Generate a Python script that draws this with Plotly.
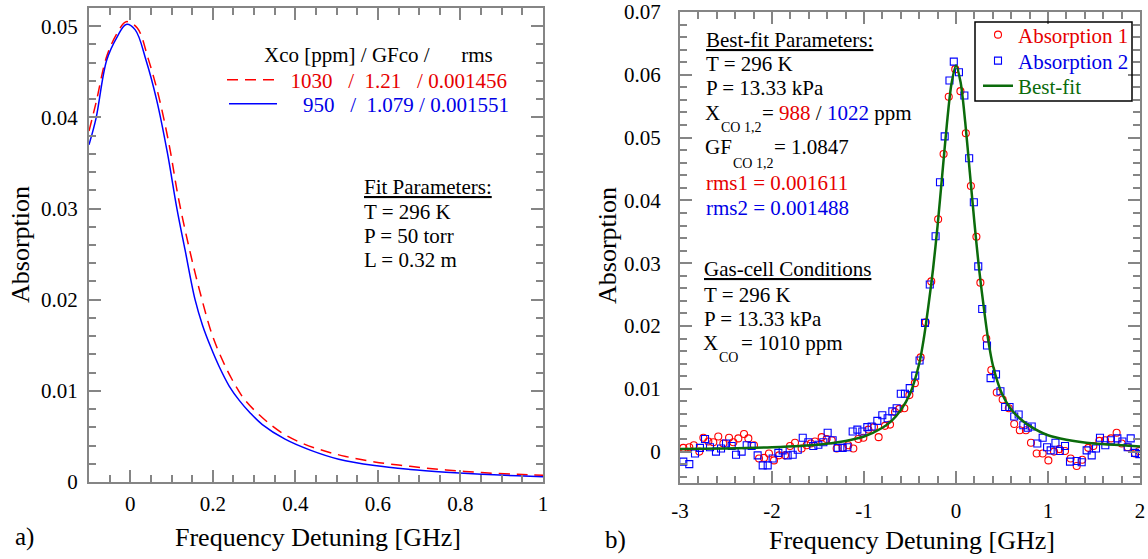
import plotly.graph_objects as go

# ---------------- data: panel a) ----------------
a_blue_x = [-0.1, -0.083, -0.057, -0.031, -0.01, 0.012, 0.038, 0.064, 0.090, 0.113, 0.133,
            0.157, 0.175, 0.195, 0.215, 0.240, 0.265, 0.290, 0.320, 0.375, 0.436, 0.505,
            0.592, 0.678, 0.765, 0.851, 0.938, 1.0]
a_blue_y = [0.0370, 0.0399, 0.0463, 0.0489, 0.0502, 0.0496, 0.0463, 0.0419, 0.0361, 0.0300, 0.0254,
            0.0200, 0.0172, 0.0148, 0.0127, 0.0105, 0.0089, 0.0076, 0.0063, 0.0047, 0.0035, 0.0025,
            0.0018, 0.00138, 0.00108, 0.00085, 0.00068, 0.00058]
a_red_x = [-0.1, -0.083, -0.057, -0.031, -0.01, 0.017, 0.043, 0.069, 0.095, 0.116, 0.142,
           0.168, 0.198, 0.224, 0.246, 0.276, 0.319, 0.367, 0.419, 0.471, 0.522, 0.592,
           0.678, 0.765, 0.851, 0.938, 1.0]
a_red_y = [0.0385, 0.0416, 0.0467, 0.0493, 0.0505, 0.0498, 0.0465, 0.0423, 0.0368, 0.0313, 0.0258,
           0.0210, 0.0162, 0.0133, 0.0113, 0.0091, 0.0071, 0.0054, 0.0042, 0.0034, 0.0028, 0.0022,
           0.00172, 0.00132, 0.00103, 0.00084, 0.00074]

a_xticks = [0, 0.2, 0.4, 0.6, 0.8, 1]
a_xticklabels = ["0", "0.2", "0.4", "0.6", "0.8", "1"]
a_yticks = [0, 0.01, 0.02, 0.03, 0.04, 0.05]
a_yticklabels = ["0", "0.01", "0.02", "0.03", "0.04", "0.05"]

# ---------------- data: panel b) ----------------
b_abs1_x = [-2.964, -2.899, -2.850, -2.790, -2.746, -2.692, -2.638, -2.584, -2.529, -2.467,
            -2.420, -2.366, -2.304, -2.257, -2.196, -2.141, -2.087, -2.033, -1.978, -1.924,
            -1.859, -1.804, -1.750, -1.678, -1.623, -1.578, -1.533, -1.460, -1.406, -1.351,
            -1.297, -1.232, -1.171, -1.116, -1.062, -1.007, -0.953, -0.891, -0.841, -0.772,
            -0.717, -0.663, -0.616, -0.562, -0.507, -0.447, -0.384, -0.329, -0.269, -0.194,
            -0.135, -0.079, -0.008, 0.048, 0.107, 0.162, 0.222, 0.265, 0.329, 0.384,
            0.443, 0.507, 0.574, 0.633, 0.693, 0.760, 0.815, 0.877, 0.942, 1.004,
            1.065, 1.123, 1.185, 1.246, 1.312, 1.372, 1.438, 1.493, 1.558, 1.620,
            1.685, 1.746, 1.801, 1.866, 1.946, 1.989]
b_abs1_y = [0.0006, 0.0007, 0.0010, 0.0000, 0.0022, 0.0016, 0.0015, 0.0024, 0.0013, 0.0022,
            0.0015, 0.0021, 0.0028, 0.0021, 0.0010, -0.0011, -0.0010, -0.0003, -0.0014, -0.0006,
            -0.0006, 0.0009, 0.0014, 0.0005, 0.0010, 0.0013, 0.0016, 0.0023, 0.0020, 0.0018,
            0.0005, 0.0006, 0.0010, 0.0005, 0.0020, 0.0022, 0.0035, 0.0039, 0.0023, 0.0041,
            0.0043, 0.0063, 0.0068, 0.0069, 0.0090, 0.0109, 0.0150, 0.0206, 0.0271, 0.0370,
            0.0474, 0.0565, 0.0609, 0.0574, 0.0507, 0.0423, 0.0342, 0.0269, 0.0180, 0.0130,
            0.0094, 0.0083, 0.0069, 0.0044, 0.0034, 0.0034, 0.0014, -0.0003, -0.0003, -0.0014,
            0.0000, 0.0004, 0.0001, -0.0011, -0.0023, -0.0013, 0.0006, 0.0009, 0.0017, 0.0018,
            0.0021, 0.0030, 0.0013, 0.0007, -0.0003, 0.0001]

b_abs2_x = [-2.964, -2.899, -2.837, -2.783, -2.728, -2.674, -2.609, -2.554, -2.500, -2.438,
            -2.391, -2.330, -2.275, -2.221, -2.156, -2.101, -2.047, -1.993, -1.931, -1.884,
            -1.830, -1.775, -1.720, -1.666, -1.605, -1.551, -1.496, -1.442, -1.395, -1.341,
            -1.286, -1.232, -1.181, -1.123, -1.072, -1.018, -0.964, -0.917, -0.855, -0.801,
            -0.743, -0.692, -0.645, -0.600, -0.555, -0.503, -0.443, -0.396, -0.337, -0.285,
            -0.222, -0.174, -0.123, -0.071, -0.024, 0.032, 0.091, 0.143, 0.194, 0.242,
            0.285, 0.337, 0.376, 0.435, 0.483, 0.534, 0.582, 0.633, 0.681, 0.732,
            0.780, 0.823, 0.884, 0.942, 0.990, 1.029, 1.081, 1.128, 1.185, 1.239,
            1.312, 1.366, 1.420, 1.475, 1.522, 1.565, 1.623, 1.683, 1.754, 1.809,
            1.866, 1.899, 1.946, 1.993]
b_abs2_y = [-0.0016, -0.0020, -0.0003, 0.0006, 0.0020, 0.0007, 0.0000, 0.0005, 0.0013, 0.0009,
            -0.0005, 0.0000, 0.0010, 0.0009, -0.0006, -0.0022, -0.0022, -0.0011, -0.0002, 0.0002,
            -0.0006, -0.0005, 0.0003, 0.0022, 0.0015, 0.0009, 0.0011, 0.0015, 0.0030, 0.0018,
            0.0006, 0.0006, 0.0007, 0.0032, 0.0035, 0.0032, 0.0039, 0.0040, 0.0049, 0.0058,
            0.0053, 0.0064, 0.0069, 0.0092, 0.0092, 0.0101, 0.0121, 0.0145, 0.0205, 0.0266,
            0.0343, 0.0429, 0.0502, 0.0591, 0.0621, 0.0604, 0.0567, 0.0467, 0.0397, 0.0295,
            0.0227, 0.0169, 0.0117, 0.0123, 0.0096, 0.0071, 0.0071, 0.0056, 0.0059, 0.0042,
            0.0038, 0.0040, 0.0013, 0.0022, 0.0007, 0.0002, 0.0014, 0.0001, 0.0009, -0.0016,
            -0.0015, -0.0017, 0.0002, -0.0006, 0.0005, 0.0022, 0.0010, 0.0018, 0.0021, 0.0016,
            0.0007, 0.0021, -0.0002, -0.0004]

b_fit_x = [-3.0, -2.5, -2.0, -1.5, -1.2, -1.0, -0.8, -0.7, -0.6, -0.5, -0.4, -0.35, -0.3,
           -0.25, -0.2, -0.15, -0.1, -0.05, 0.0, 0.05, 0.1, 0.15, 0.2, 0.25, 0.3, 0.35,
           0.4, 0.5, 0.6, 0.7, 0.8, 1.0, 1.2, 1.5, 1.8, 2.0]
b_fit_y = [0.0004, 0.0005, 0.0007, 0.0011, 0.0017, 0.0024, 0.0038, 0.0049, 0.0066, 0.0092,
           0.0140, 0.0180, 0.0232, 0.0290, 0.0360, 0.0440, 0.0520, 0.0585, 0.0615, 0.0588,
           0.0525, 0.0445, 0.0365, 0.0292, 0.0232, 0.0178, 0.0138, 0.0092, 0.0067, 0.0052,
           0.0041, 0.0026, 0.0019, 0.0013, 0.0010, 0.0008]

b_xticks = [-3, -2, -1, 0, 1, 2]
b_xticklabels = ["-3", "-2", "-1", "0", "1", "2"]
b_yticks = [0, 0.01, 0.02, 0.03, 0.04, 0.05, 0.06, 0.07]
b_yticklabels = ["0", "0.01", "0.02", "0.03", "0.04", "0.05", "0.06", "0.07"]

# ---------------- styling ----------------
W, H = 1148, 559
FONT = "Liberation Serif, Times New Roman, serif"
GRAY = "#858585"
RED = "#ff0000"
BLUE = "#0000ff"
GREEN = "#0b6b0b"
TRED = "#e60000"
TBLUE = "#0000e6"
NB = "\u00a0"


def fx(p):
    return p / W


def fy(p):
    return 1 - p / H


fig = go.Figure()

fig.add_trace(go.Scatter(
    x=a_red_x, y=a_red_y, mode="lines", xaxis="x", yaxis="y",
    line=dict(color=RED, width=1.5, dash="11px,7px", shape="spline"),
    name=f"<span style='color:{TRED}'>{NB*2}1030{NB*3}/{NB*2}1.21{NB*3}/ 0.001456</span>",
    legend="legend2"))
fig.add_trace(go.Scatter(
    x=a_blue_x, y=a_blue_y, mode="lines", xaxis="x", yaxis="y",
    line=dict(color=BLUE, width=1.5, shape="spline"),
    name=f"<span style='color:{TBLUE}'>{NB*4}950{NB*3}/{NB*2}1.079{NB}/ 0.001551</span>",
    legend="legend3"))

fig.add_trace(go.Scatter(
    x=b_abs1_x, y=b_abs1_y, mode="markers", xaxis="x2", yaxis="y2",
    marker=dict(symbol="circle-open", size=7, color=RED, line=dict(width=1.1)),
    name=f"<span style='color:{TRED}'>Absorption 1</span>", legend="legend"))
fig.add_trace(go.Scatter(
    x=b_abs2_x, y=b_abs2_y, mode="markers", xaxis="x2", yaxis="y2",
    marker=dict(symbol="square-open", size=7, color=BLUE, line=dict(width=1.1)),
    name=f"<span style='color:{TBLUE}'>Absorption 2</span>", legend="legend4"))
fig.add_trace(go.Scatter(
    x=b_fit_x, y=b_fit_y, mode="lines", xaxis="x2", yaxis="y2",
    line=dict(color=GREEN, width=2.5, shape="spline", smoothing=0.8),
    name=f"<span style='color:{GREEN}'>Best-fit</span>", legend="legend5"))

axis_common = dict(
    showgrid=False, zeroline=False, showline=True, linecolor=GRAY, linewidth=2,
    mirror="allticks", ticks="inside", ticklen=12, tickwidth=1.5, tickcolor=GRAY,
    tickfont=dict(family=FONT, size=21, color="black"), tickmode="array",
    automargin=False,
)


def minor(d):
    return dict(ticks="inside", ticklen=7, tickwidth=1.5, tickcolor=GRAY,
                tickmode="linear", tick0=0, dtick=d)


def one_legend(x, y, itemwidth=30):
    return dict(x=fx(x), y=fy(y), xanchor="left", yanchor="middle",
                bgcolor="rgba(0,0,0,0)", borderwidth=0, itemwidth=itemwidth,
                font=dict(family=FONT, size=21))


fig.update_layout(
    template="none",
    width=W, height=H, margin=dict(l=0, r=0, t=0, b=0, pad=0, autoexpand=False),
    paper_bgcolor="white", plot_bgcolor="white",
    font=dict(family=FONT, size=21, color="black"),
    showlegend=True,
    xaxis=dict(**axis_common, domain=[fx(89), fx(543)], range=[-0.1, 1],
               tickvals=a_xticks, ticktext=a_xticklabels, minor=minor(0.05),
               anchor="y", ticklabelstandoff=2),
    yaxis=dict(**axis_common, domain=[fy(482), fy(8)], range=[0, 0.052],
               tickvals=a_yticks, ticktext=a_yticklabels, minor=minor(0.002),
               anchor="x", ticklabelstandoff=5),
    xaxis2=dict(**axis_common, domain=[fx(680), fx(1140)], range=[-3, 2],
                tickvals=b_xticks, ticktext=b_xticklabels, minor=minor(0.2),
                anchor="y2", ticklabelstandoff=8),
    yaxis2=dict(**axis_common, domain=[fy(483), fy(12)], range=[-0.005, 0.07],
                tickvals=b_yticks, ticktext=b_yticklabels, minor=minor(0.002),
                anchor="x2", ticklabelstandoff=13),
    legend=one_legend(978, 35),
    legend4=one_legend(978, 61),
    legend5=one_legend(978, 86),
    legend2=one_legend(222, 80, itemwidth=48),
    legend3=one_legend(224, 104, itemwidth=48),
    shapes=[dict(type="rect", xref="paper", yref="paper",
                 x0=fx(975), x1=fx(1132), y0=fy(101), y1=fy(22),
                 line=dict(color="black", width=1.5), fillcolor="rgba(0,0,0,0)",
                 layer="above")],
)

anns = []


def ann(text, x, y, size=21, color="black", xanchor="left", underline=False, angle=0):
    f = dict(family=FONT, size=size, color=color)
    if underline:
        f["lineposition"] = "under"
    anns.append(dict(text=text, x=fx(x), y=fy(y), xref="paper", yref="paper",
                     xanchor=xanchor, yanchor="middle", showarrow=False, font=f,
                     textangle=angle))


# axis titles and panel labels
ann("Absorption", 20, 245, size=26, xanchor="center", angle=-90)
ann("Absorption", 607, 246, size=26, xanchor="center", angle=-90)
ann("Frequency Detuning [GHz]", 318, 537, size=26, xanchor="center")
ann("Frequency Detuning [GHz]", 912, 540, size=26, xanchor="center")
ann("a)", 13, 537, size=25)
ann("b)", 603, 540, size=25)

# panel a texts
ann(f"Xco [ppm] / GFco /{NB*6}rms", 262, 55)
ann("Fit Parameters:", 362, 187, underline=True)
ann("T = 296 K", 362, 212)
ann("P = 50 torr", 362, 236)
ann("L = 0.32 m", 362, 260)

# panel b texts
ann("Best-fit Parameters:", 704, 40, underline=True)
ann("T = 296 K", 704, 64)
ann("P = 13.33 kPa", 704, 88)
ann("X", 703, 113)
ann("CO 1,2", 719, 128, size=14)
ann(f"= <span style='color:{TRED}'>988</span> / <span style='color:{TBLUE}'>1022</span> ppm", 760, 113)
ann("GF", 703, 147)
ann("CO 1,2", 731, 163, size=14)
ann("= 1.0847", 772, 147)
ann("rms1 = 0.001611", 704, 183, color=TRED)
ann("rms2 = 0.001488", 704, 208, color=TBLUE)
ann("Gas-cell Conditions", 702, 269, underline=True)
ann("T = 296 K", 702, 295)
ann("P = 13.33 kPa", 702, 319)
ann("X", 701, 343)
ann("CO", 717, 357, size=14)
ann("= 1010 ppm", 739, 343)

fig.update_layout(annotations=anns)
fig.write_html("out.html")
